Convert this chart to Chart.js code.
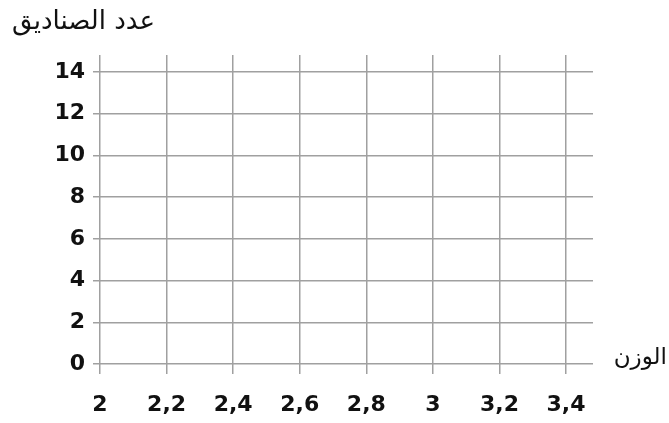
<!DOCTYPE html>
<html>
<head>
<meta charset="utf-8">
<script src="https://cdn.jsdelivr.net/npm/chart.js@4"></script>
<style>
  html, body { margin: 0; padding: 0; background: #fff; }
  #wrap { width: 669px; height: 423px; position: relative; }
</style>
</head>
<body>
<div id="wrap"><canvas id="gridChart"></canvas></div>
<script>
const xTicks     = [2, 2.2, 2.4, 2.6, 2.8, 3, 3.2, 3.4];
const yTicks     = [0, 2, 4, 6, 8, 10, 12, 14];
const yTitle     = "عدد الصناديق";
const xTitle     = "الوزن";
const points     = [];   // empty grid, no data yet

const GRID_COLOR = "#a0a0a0";
const TEXT_COLOR = "#111";
const TICK_FONT  = { family: "'DejaVu Sans'", size: 22, weight: "bold" };

/* ── Axis titles ─────────────────────────────────── */
const axisTitles = {
  id: "axisTitles",
  afterDraw(chart) {
    const ctx = chart.ctx;
    ctx.save();
    ctx.fillStyle = TEXT_COLOR;
    ctx.textBaseline = "middle";
    ctx.font = "26px 'DejaVu Sans'";
    ctx.textAlign = "left";
    ctx.fillText(yTitle, 12, 22);
    ctx.font = "23px 'DejaVu Sans'";
    ctx.textAlign = "right";
    ctx.fillText(xTitle, 667, 358);
    ctx.restore();
  }
};

const fmt = v => String(Math.round(v * 10) / 10).replace(".", ",");

new Chart(document.getElementById("gridChart"), {
  type: "scatter",
  data: { datasets: [{ data: points }] },
  options: {
    responsive: true,
    maintainAspectRatio: false,
    animation: false,
    layout: { padding: { top: 55, right: 76, left: 0, bottom: 0 } },
    plugins: { legend: { display: false }, tooltip: { enabled: false } },
    scales: {
      x: {
        type: "linear",
        min: 2,
        max: 3.481,
        afterBuildTicks: s => { s.ticks = xTicks.map(v => ({ value: v })); },
        afterFit: s => { s.height = 59; },
        grid: { color: GRID_COLOR, lineWidth: 1.5, tickLength: 10, tickColor: GRID_COLOR },
        border: { display: false },
        ticks: { color: TEXT_COLOR, font: TICK_FONT, padding: 18, maxRotation: 0, callback: fmt }
      },
      y: {
        type: "linear",
        min: 0,
        max: 14.81,
        afterBuildTicks: s => { s.ticks = yTicks.map(v => ({ value: v })); },
        afterFit: s => { s.width = 100; },
        grid: { color: GRID_COLOR, lineWidth: 1.5, tickLength: 7, tickColor: GRID_COLOR },
        border: { display: false },
        ticks: { color: TEXT_COLOR, font: TICK_FONT, padding: 8, callback: fmt }
      }
    }
  },
  plugins: [axisTitles]
});
</script>
</body>
</html>
